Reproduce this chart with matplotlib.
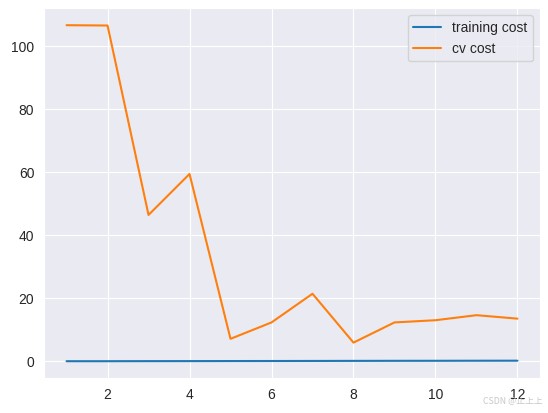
import numpy as np
import matplotlib
matplotlib.use("Agg")
import matplotlib.pyplot as plt
import seaborn as sns

# degree / iteration index
x = [1, 2, 3, 4, 5, 6, 7, 8, 9, 10, 11, 12]
training_cost = [0.0, 0.0, 0.02, 0.03, 0.05, 0.06, 0.08, 0.1, 0.12, 0.13, 0.15, 0.16]
cv_cost = [106.6, 106.5, 46.4, 59.4, 7.1, 12.3, 21.4, 5.9, 12.3, 13.0, 14.6, 13.5]

sns.set_style("darkgrid")
plt.rcParams['font.family'] = ['Liberation Sans', 'DejaVu Sans']

fig = plt.figure(figsize=(5.48, 4.13), dpi=100)
ax = fig.add_axes([44 / 548, 35 / 413, 496 / 548, 369.6 / 413])

ax.plot(x, training_cost, label='training cost')
ax.plot(x, cv_cost, label='cv cost')
ax.legend()

fig.text(0.99, 0.018, 'CSDN @止上上', ha='right', va='bottom', fontsize=6.3,
         color='#c8c8c8', family=['Noto Sans CJK SC', 'DejaVu Sans'])

fig.savefig('out.png', dpi=100)
